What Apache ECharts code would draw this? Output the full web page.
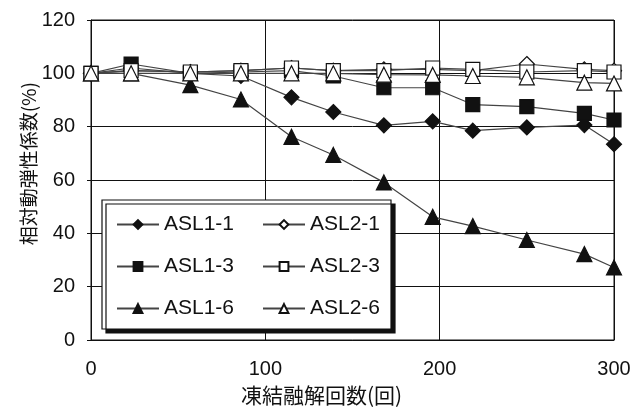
<!DOCTYPE html>
<html>
<head>
<meta charset="utf-8">
<script src="https://cdn.jsdelivr.net/npm/echarts@6/dist/echarts.min.js"></script>
<style>
  html, body { margin: 0; padding: 0; background: #fff; }
  #chart { width: 637px; height: 412px; }
</style>
</head>
<body>
<div id="chart"></div>
<script>
// Freeze-thaw cycles at which each specimen was measured
const cycles = [0, 23, 57, 86, 115, 139, 168, 196, 219, 250, 283, 300];

// Relative dynamic modulus of elasticity (%) per specimen
const asl1_1 = [100, 102, 100, 99, 91, 85.5, 80.5, 82, 78.5, 79.7, 80.6, 73.4];
const asl1_3 = [100, 103.5, 100, 100.5, 101, 99, 94.6, 94.6, 88.3, 87.5, 85, 82.5];
const asl1_6 = [100, 100, 95.6, 90.2, 76.2, 69.4, 59.1, 46.2, 42.7, 37.5, 32.2, 27.2];
const asl2_1 = [100, 101, 100.5, 101, 102, 101, 101.5, 101.5, 101, 103.5, 101.5, 101];
const asl2_3 = [100, 101, 100.5, 101, 102, 101, 101, 102, 101.5, 100.5, 101, 100.5];
const asl2_6 = [100, 100, 100, 100, 100, 100, 99.5, 99.4, 99, 98.5, 96.5, 96.2];

const xTicks = [0, 100, 200, 300];
const yTicks = [0, 20, 40, 60, 80, 100, 120];

const numFont = '"Liberation Sans", Arial, sans-serif';
const jpFont = '"Noto Sans CJK JP", sans-serif';

const pairs = (ys) => cycles.map((x, i) => [x, ys[i]]);

const defs = [
  { name: 'ASL1-1', data: asl1_1, symbol: 'diamond', size: 15, fill: '#111' },
  { name: 'ASL1-3', data: asl1_3, symbol: 'rect', size: 14, fill: '#111' },
  { name: 'ASL1-6', data: asl1_6, symbol: 'triangle', size: 15, fill: '#111' },
  { name: 'ASL2-1', data: asl2_1, symbol: 'diamond', size: 15, fill: '#fff' },
  { name: 'ASL2-3', data: asl2_3, symbol: 'rect', size: 14, fill: '#fff' },
  { name: 'ASL2-6', data: asl2_6, symbol: 'triangle', size: 15, fill: '#fff' }
];

const series = defs.map(d => ({
  name: d.name,
  type: 'line',
  data: pairs(d.data),
  symbol: d.symbol,
  symbolSize: d.size,
  showAllSymbol: true,
  animation: false,
  lineStyle: { color: '#444', width: 1.2 },
  itemStyle: { color: d.fill, borderColor: '#111', borderWidth: 1.2 },
  z: d.fill === '#fff' ? 3 : 2
}));

const legendCommon = {
  orient: 'vertical',
  top: 209,
  itemWidth: 42,
  itemHeight: 11,
  itemGap: 21,
  textStyle: { fontFamily: numFont, fontSize: 21, color: '#111' },
  backgroundColor: 'transparent',
  z: 10
};

const chart = echarts.init(document.getElementById('chart'), null, { renderer: 'canvas' });
chart.setOption({
  backgroundColor: '#fff',
  animation: false,
  grid: { left: 91, right: 23, top: 20, bottom: 72, show: true, borderColor: '#111', borderWidth: 1 },
  xAxis: {
    type: 'value',
    min: 0, max: 300, interval: 100,
    axisLine: { show: true, lineStyle: { color: '#111' } },
    axisTick: { show: false },
    splitLine: { show: true, lineStyle: { color: '#111', width: 1 } },
    axisLabel: {
      margin: 19, fontFamily: numFont, fontSize: 20, color: '#111',
      formatter: v => xTicks.includes(v) ? String(v) : ''
    }
  },
  yAxis: {
    type: 'value',
    min: 0, max: 120, interval: 20,
    axisLine: { show: true, lineStyle: { color: '#111' } },
    axisTick: { show: true, length: 4, lineStyle: { color: '#111' } },
    splitLine: { show: true, lineStyle: { color: '#111', width: 1 } },
    axisLabel: {
      margin: 16, fontFamily: numFont, fontSize: 20, color: '#111',
      formatter: v => yTicks.includes(v) ? String(v) : ''
    }
  },
  graphic: [
    {
      type: 'rect',
      shape: { x: 102, y: 200, width: 289, height: 129 },
      style: { fill: '#fff', stroke: '#111', lineWidth: 1.2,
               shadowColor: '#111', shadowOffsetX: 4, shadowOffsetY: 4, shadowBlur: 0 },
      z: 5
    },
    {
      type: 'text',
      left: 241, top: 385,
      style: { text: '凍結融解回数(回)', font: '21px ' + jpFont, fill: '#111' },
      z: 6
    },
    {
      type: 'text',
      left: 19, top: 82,
      rotation: Math.PI / 2,
      originX: 0, originY: 0,
      style: { text: '相対動弾性係数(%)', font: '19px ' + jpFont, fill: '#111' },
      z: 6
    }
  ],
  legend: [
    Object.assign({ left: 111, data: ['ASL1-1', 'ASL1-3', 'ASL1-6'] }, legendCommon),
    Object.assign({ left: 257, data: ['ASL2-1', 'ASL2-3', 'ASL2-6'] }, legendCommon)
  ],
  series: series
});
</script>
</body>
</html>
